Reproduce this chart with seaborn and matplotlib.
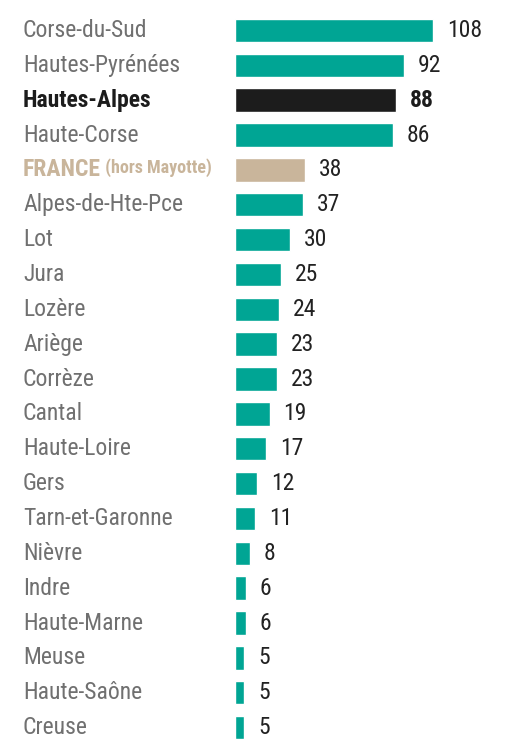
import matplotlib
matplotlib.use('Agg')
import matplotlib.pyplot as plt
from matplotlib import font_manager
import matplotlib.transforms as mtransforms
import seaborn as sns
import pandas as pd

departements = ['Corse-du-Sud', 'Hautes-Pyrénées', 'Hautes-Alpes', 'Haute-Corse', 'FRANCE',
                'Alpes-de-Hte-Pce', 'Lot', 'Jura', 'Lozère', 'Ariège', 'Corrèze', 'Cantal',
                'Haute-Loire', 'Gers', 'Tarn-et-Garonne', 'Nièvre', 'Indre', 'Haute-Marne',
                'Meuse', 'Haute-Saône', 'Creuse']
valeurs = [108, 92, 88, 86, 38, 37, 30, 25, 24, 23, 23, 19, 17, 12, 11, 8, 6, 6, 5, 5, 5]
groupes = ['autre', 'autre', 'focus', 'autre', 'france'] + ['autre'] * 16

TEAL = '#00a594'
NOIR = '#1c1c1c'
BEIGE = '#c9b59b'
GRIS = '#707070'
TEXTE = '#222222'
TAILLE = 17

noms = {f.name for f in font_manager.fontManager.ttflist}
police = 'Roboto'
for candidat in ['Roboto Condensed', 'Liberation Sans Narrow', 'Roboto']:
    if candidat in noms:
        police = candidat
        break

sns.set_theme(style='white')
plt.rcParams['font.family'] = [police, 'DejaVu Sans']

df = pd.DataFrame({'dep': departements, 'val': valeurs, 'groupe': groupes})

fig = plt.figure(figsize=(5.3, 7.41), dpi=100)
ax = fig.add_axes([235 / 530, -4 / 741, 275 / 530, 732 / 741])
sns.barplot(data=df, x='val', y='dep', hue='groupe', dodge=False, legend=False,
            palette={'autre': TEAL, 'focus': NOIR, 'france': BEIGE},
            width=0.67, ax=ax, saturation=1)
ax.set_xlim(0, 150)
ax.set_ylim(20.5, -0.5)
ax.set_axis_off()

trans = mtransforms.blended_transform_factory(fig.transFigure, ax.transData)
for i, (dep, val, grp) in enumerate(zip(departements, valeurs, groupes)):
    if grp == 'focus':
        ax.text(23 / 530, i, dep, transform=trans, ha='left', va='center',
                fontsize=TAILLE, color=NOIR, fontweight='bold')
        ax.text(val + 7.5, i, str(val), ha='left', va='center', fontsize=TAILLE,
                color=NOIR, fontweight='bold')
    elif grp == 'france':
        t = ax.text(23 / 530, i, dep, transform=trans, ha='left', va='center',
                    fontsize=TAILLE, color=BEIGE, fontweight='bold')
        ax.annotate(' (hors Mayotte)', xy=(1, 0.2), xycoords=t, ha='left', va='bottom',
                    fontsize=13, color=BEIGE, fontweight='bold')
        ax.text(val + 7.5, i, str(val), ha='left', va='center', fontsize=TAILLE, color=TEXTE)
    else:
        ax.text(23 / 530, i, dep, transform=trans, ha='left', va='center',
                fontsize=TAILLE, color=GRIS)
        ax.text(val + 7.5, i, str(val), ha='left', va='center', fontsize=TAILLE, color=TEXTE)

fig.savefig('out.png', dpi=100, facecolor='white')
